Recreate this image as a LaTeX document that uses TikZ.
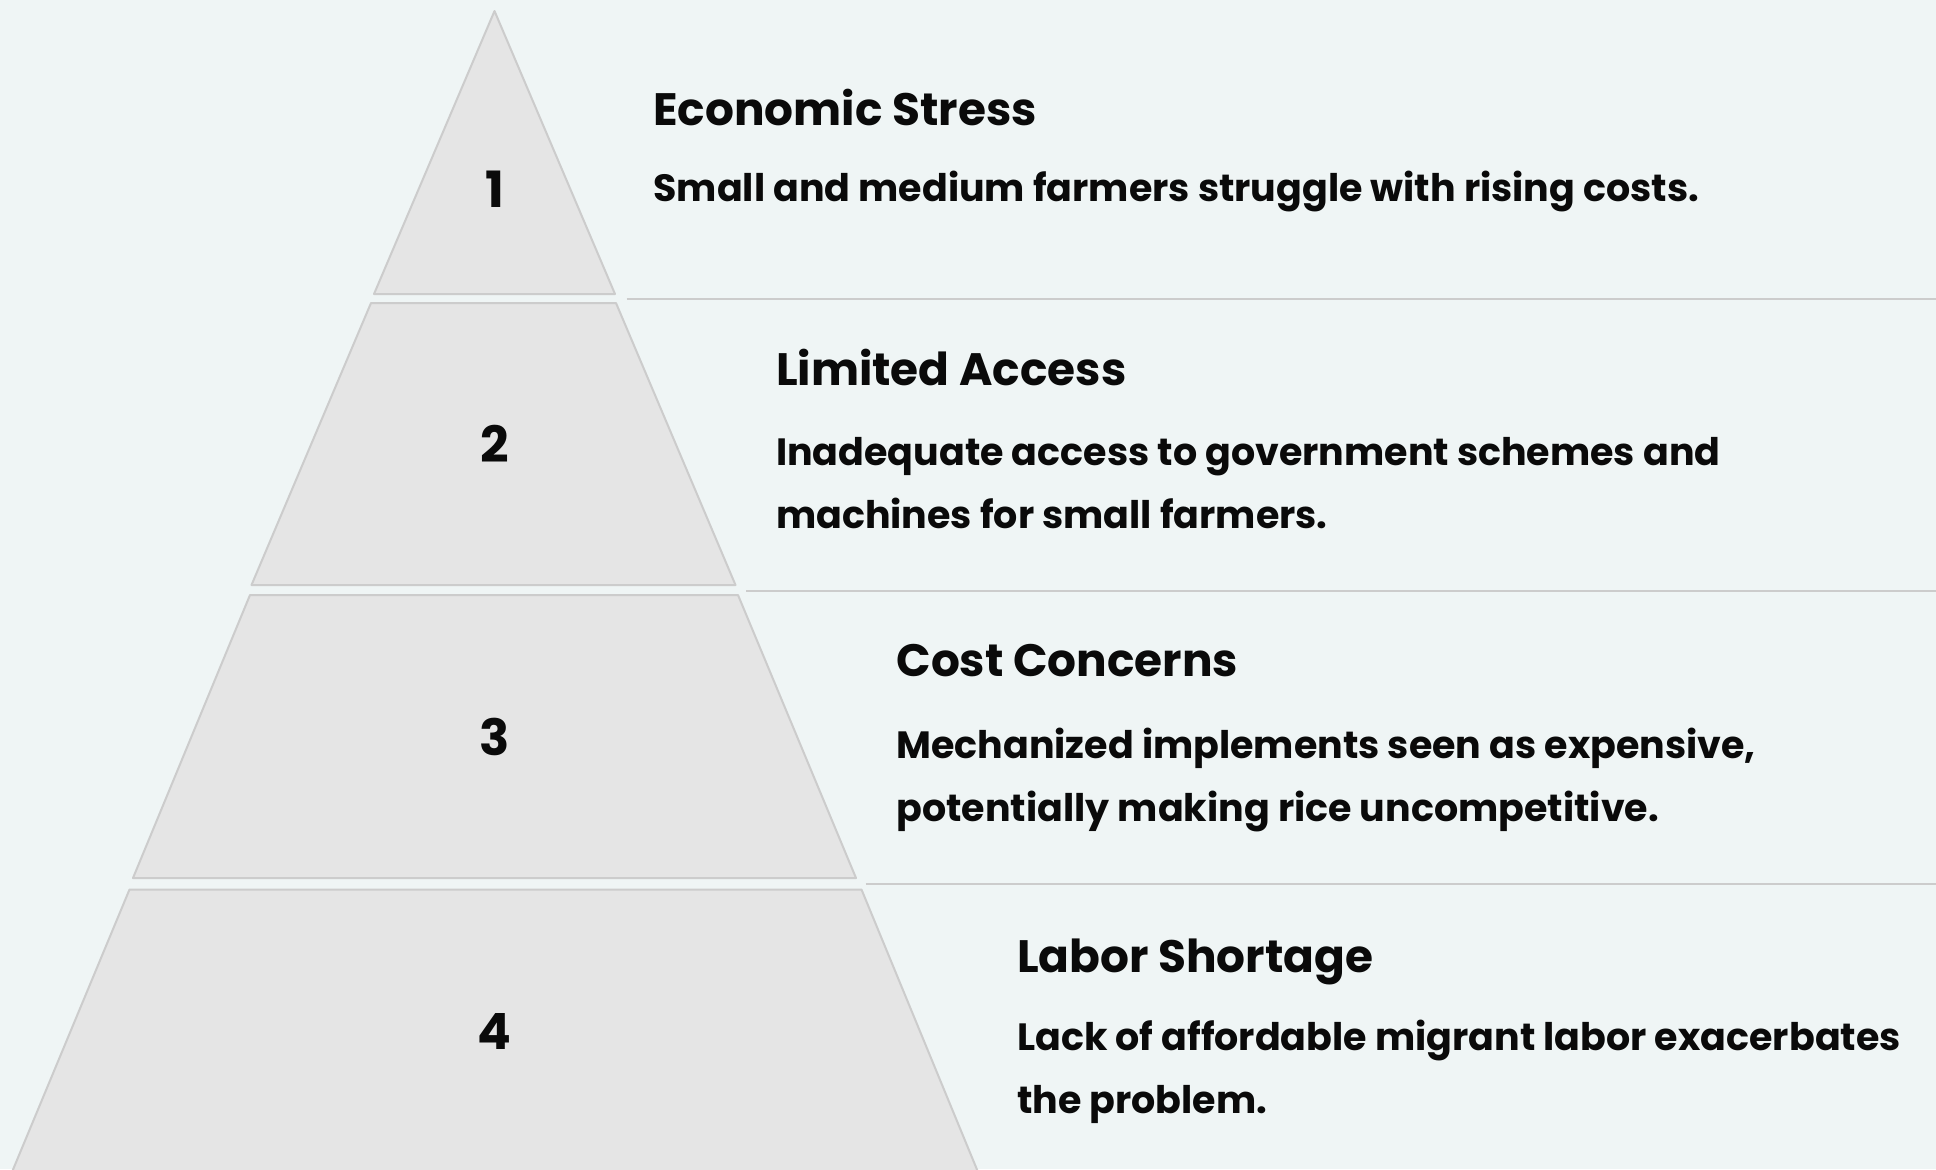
\documentclass[tikz,border=0pt]{standalone}
\usepackage{fontspec}
\setmainfont{Poppins}
\usepackage{xcolor}
\definecolor{bgcol}{HTML}{EFF5F5}
\definecolor{tierfill}{HTML}{E5E5E5}
\definecolor{tierline}{HTML}{CCCCCC}
\definecolor{ink}{HTML}{0A0A0A}

\begin{document}
\begin{tikzpicture}[
    x=0.5pt, y=-0.5pt,
    tier/.style={fill=tierfill, draw=tierline, line width=1pt, line join=round},
    rule/.style={draw=tierline, line width=1pt},
    num/.style={inner sep=0pt, text=ink, font=\fontsize{25}{30}\selectfont\bfseries},
    head/.style={anchor=base west, inner sep=0pt, text=ink, font=\fontsize{22.7}{28}\selectfont\bfseries},
    desc/.style={anchor=base west, inner sep=0pt, align=left, text=ink, font=\fontsize{19}{31.5}\selectfont\bfseries}
]
    % Canvas
    \fill[bgcol] (0,0) rectangle (1936,1169);
    \useasboundingbox (0,0) rectangle (1936,1169);

    % Pyramid tiers
    \draw[tier] (494.5,11) -- (615,294) -- (374,294) -- cycle;
    \draw[tier] (371,303) -- (616,303) -- (735.5,585) -- (251.5,585) -- cycle;
    \draw[tier] (250,595) -- (738,595) -- (856,878) -- (133,878) -- cycle;
    \draw[tier] (129.5,889.5) -- (861.5,889.5) -- (978,1172) -- (12,1172) -- cycle;

    % Numbers
    \node[num] (num1) at (494.5,189) {1};
    \node[num] (num2) at (494.5,444) {2};
    \node[num] (num3) at (494.5,737) {3};
    \node[num] (num4) at (494.5,1031) {4};

    % Dividers
    \draw[rule] (626.7,299) -- (1936,299);
    \draw[rule] (746,591) -- (1936,591);
    \draw[rule] (865.5,884) -- (1936,884);

    % Texts (multi-line nodes sit on their last baseline)
    \node[head] (head1) at (653,125) {Economic Stress};
    \node[desc] (desc1) at (653,201.7) {Small and medium farmers struggle with rising costs.};
    \node[head] (head2) at (775.6,385) {Limited Access};
    \node[desc] (desc2) at (775.6,528.3) {Inadequate access to government schemes and\\machines for small farmers.};
    \node[head] (head3) at (896,676.7) {Cost Concerns};
    \node[desc] (desc3) at (896,821.7) {Mechanized implements seen as expensive,\\potentially making rice uncompetitive.};
    \node[head] (head4) at (1016.7,972.3) {Labor Shortage};
    \node[desc] (desc4) at (1016.7,1113.3) {Lack of affordable migrant labor exacerbates\\the problem.};
\end{tikzpicture}
\end{document}
